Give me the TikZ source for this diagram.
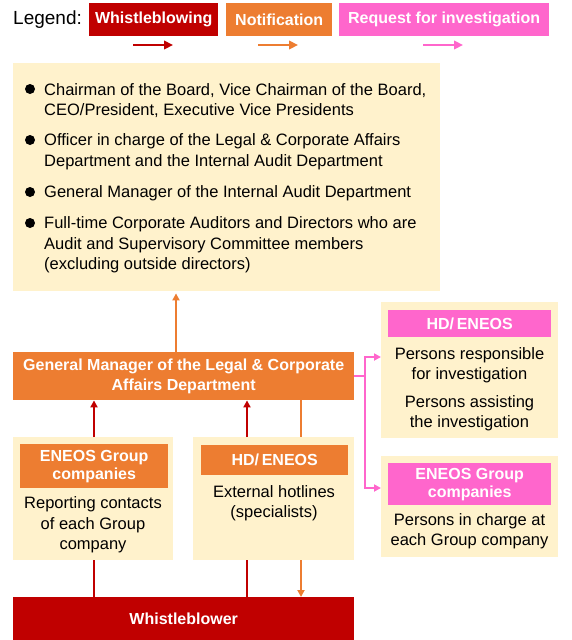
\documentclass[tikz,border=0pt]{standalone}
\usepackage{fontspec}
\setmainfont{Liberation Sans}
\usetikzlibrary{arrows.meta}
\definecolor{wbred}{HTML}{C00000}
\definecolor{notor}{HTML}{ED7D31}
\definecolor{reqpk}{HTML}{FF66CC}
\definecolor{cream}{HTML}{FFF2CC}
\begin{document}
\begin{tikzpicture}[x=1pt,y=-1pt,
  panel/.style={fill=cream, draw=none, inner sep=0, anchor=north west},
  hdr/.style={draw=none, inner sep=0, anchor=north west, text=white, align=center,
    font=\bfseries\fontsize{16}{18}\selectfont},
  body/.style={inner sep=0, align=center, font=\fontsize{16.5}{20.5}\selectfont},
  item/.style={inner sep=0, align=left, anchor=west, font=\fontsize{16.5}{20.5}\selectfont},
  dot/.style={circle, fill=black, minimum size=10pt, inner sep=0},
  tip/.style={-{Triangle[length=7pt,width=7pt]}},
  wline/.style={draw=wbred, line width=2pt},
  nline/.style={draw=notor, line width=2pt},
  rline/.style={draw=reqpk, line width=2pt},
  legarrow/.style={line width=2.7pt, -{Triangle[length=9pt,width=8.5pt]}}
]
\useasboundingbox (0,0) rectangle (572,640);

% ---- legend ----
\node[anchor=west, inner sep=0, font=\fontsize{19}{22}\selectfont] (leg) at (13,19.5) {Legend:};
\node[hdr, fill=wbred, minimum width=129pt, minimum height=33pt] (lw) at (89,3) {Whistleblowing};
\node[hdr, fill=notor, minimum width=106pt, minimum height=33pt] (ln) at (226,3) {Notification};
\node[hdr, fill=reqpk, minimum width=210pt, minimum height=33pt] (lr) at (339,3) {Request for investigation};
\coordinate (lwa) at (133,45); \coordinate (lwb) at (173,45);
\coordinate (lna) at (258,45); \coordinate (lnb) at (298,45);
\coordinate (lra) at (423,45); \coordinate (lrb) at (463,45);
\draw[legarrow, wbred] (lwa) -- (lwb);
\draw[legarrow, notor] (lna) -- (lnb);
\draw[legarrow, reqpk] (lra) -- (lrb);

% ---- top box ----
\node[panel, minimum width=427pt, minimum height=228pt] (top) at (13,63) {};
\node[dot] (b1) at (30,89) {};
\node[dot] (b2) at (30,140) {};
\node[dot] (b3) at (30,192) {};
\node[dot] (b4) at (30,223) {};
\node[item] (i1) at (44,100.5) {Chairman of the Board, Vice Chairman of the Board,\\CEO/President, Executive Vice Presidents};
\node[item] (i2) at (44,151.5) {Officer in charge of the Legal \& Corporate Affairs\\Department and the Internal Audit Department};
\node[item] (i3) at (44,193.5) {General Manager of the Internal Audit Department};
\node[item] (i4) at (44,245) {Full-time Corporate Auditors and Directors who are\\Audit and Supervisory Committee members\\(excluding outside directors)};

% ---- GM box ----
\node[hdr, fill=notor, minimum width=341pt, minimum height=48pt, font=\bfseries\fontsize{16}{20}\selectfont] (gm) at (13,352) {General Manager of the Legal \& Corporate\\Affairs Department};

% ---- left cream box ----
\node[panel, minimum width=160pt, minimum height=123pt] (lc) at (13,437) {};
\node[hdr, fill=notor, minimum width=148pt, minimum height=44pt] (lch) at (20,444) {ENEOS Group\\companies};
\node[body] (lcb) at (93,525) {Reporting contacts\\of each Group\\company};

% ---- middle cream box ----
\node[panel, minimum width=161pt, minimum height=123pt] (mc) at (193,437) {};
\node[hdr, fill=notor, minimum width=147pt, minimum height=30pt] (mch) at (201,445) {HD/\thinspace ENEOS};
\node[body] (mcb) at (274,503) {External hotlines\\(specialists)};

% ---- whistleblower ----
\node[hdr, fill=wbred, minimum width=341pt, minimum height=43pt] (wb) at (13,597) {Whistleblower};

% ---- right box 1 ----
\node[panel, minimum width=177pt, minimum height=136pt] (r1) at (381,302) {};
\node[hdr, fill=reqpk, minimum width=163pt, minimum height=27pt] (r1h) at (388,310) {HD/\thinspace ENEOS};
\node[body] (r1a) at (469.5,365) {Persons responsible\\for investigation};
\node[body] (r1b) at (469.5,413) {Persons assisting\\the investigation};

% ---- right box 2 ----
\node[panel, minimum width=177pt, minimum height=101pt] (r2) at (381,456) {};
\node[hdr, fill=reqpk, minimum width=163pt, minimum height=42pt] (r2h) at (388,463) {ENEOS Group\\companies};
\node[body] (r2b) at (469.5,531) {Persons in charge at\\each Group company};

% ---- connectors ----
\draw[nline, tip, shorten >=2pt] (176,0 |- gm.north) -- (176,0 |- top.south);
\draw[wline] (94,0 |- wb.north) -- (94,0 |- lc.south);
\draw[wline, tip] (94,0 |- lc.north) -- (94,0 |- gm.south);
\draw[wline] (247,0 |- wb.north) -- (247,0 |- mc.south);
\draw[wline, tip] (247,0 |- mc.north) -- (247,0 |- gm.south);
\draw[nline] (301,0 |- gm.south) -- (301,0 |- mc.north);
\draw[nline, tip] (301,0 |- mc.south) -- (301,0 |- wb.north);
\coordinate (pj) at (365,376);
\draw[rline, tip] (gm.east |- pj) -- (pj) |- (r1.west |- 0,357);
\draw[rline, tip] (pj) |- (r2.west |- 0,488);
\end{tikzpicture}
\end{document}
